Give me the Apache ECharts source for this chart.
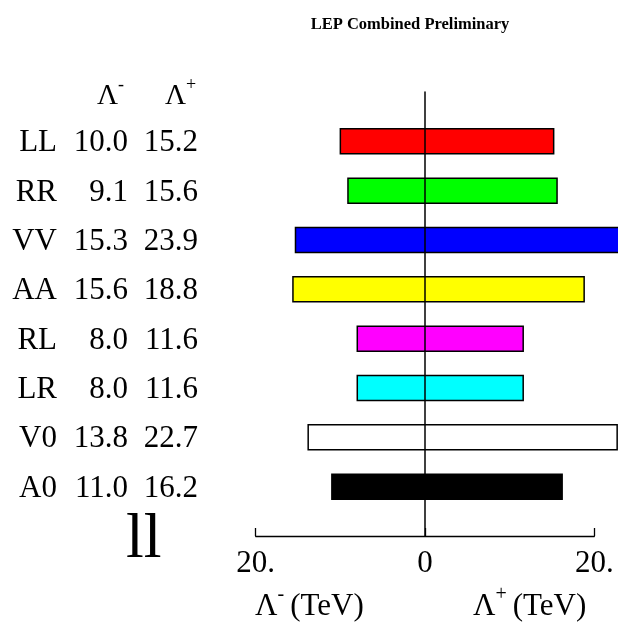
<!DOCTYPE html>
<html>
<head>
<meta charset="utf-8">
<script src="https://cdn.jsdelivr.net/npm/echarts@6/dist/echarts.min.js"></script>
<style>html,body{margin:0;padding:0;background:#fff}#c{width:618px;height:628px}</style>
</head>
<body>
<div id="c"></div>
<script>
const categories = ['LL', 'RR', 'VV', 'AA', 'RL', 'LR', 'V0', 'A0'];
const lambdaMinus = [10.0, 9.1, 15.3, 15.6, 8.0, 8.0, 13.8, 11.0];
const lambdaPlus = [15.2, 15.6, 23.9, 18.8, 11.6, 11.6, 22.7, 16.2];
const barColors = ['#ff0000', '#00ff00', '#0000ff', '#ffff00', '#ff00ff', '#00ffff', '#ffffff', '#000000'];
const tickValues = [-20, 0, 20];
const tickLabels = ['20.', '0', '20.'];

const FONT = '"Liberation Serif", "Times New Roman", serif';
const chart = echarts.init(document.getElementById('c'), null, {renderer: 'canvas'});

const data = categories.map((c, i) => [i + 1, -lambdaMinus[i], lambdaPlus[i], i]);

const supRich = {
  L: {fontSize: 31, fontFamily: FONT, color: '#000'},
  s: {fontSize: 20, fontFamily: FONT, color: '#000', padding: [0, 0, 24, 0]},
  g: {fontSize: 31, fontFamily: FONT, color: '#000', padding: [0, 0, 0, 6]}
};
const headRich = {
  L: {fontSize: 29, fontFamily: FONT, color: '#000'},
  s: {fontSize: 18, fontFamily: FONT, color: '#000', padding: [0, 0, 22, 0]}
};

const option = {
  backgroundColor: '#fff',
  animation: false,
  title: {
    text: 'LEP Combined Preliminary',
    left: 405, top: 11, textAlign: 'center',
    textStyle: {fontFamily: FONT, fontWeight: 'bold', fontSize: 16.5, color: '#000'}
  },
  grid: {left: 255.7, right: 23.7, top: 92, bottom: 92, containLabel: false},
  xAxis: {
    type: 'value', min: -20, max: 20, interval: 20,
    axisLine: {show: true, onZero: false, lineStyle: {color: '#000', width: 1.3}},
    axisTick: {show: true, inside: true, length: 8, lineStyle: {color: '#000', width: 1.3}},
    splitLine: {show: false},
    axisLabel: {
      margin: 12, fontSize: 31, fontFamily: FONT, color: '#000',
      formatter: v => tickLabels[tickValues.indexOf(v)]
    }
  },
  yAxis: [
    {
      type: 'value', min: 0, max: categories.length + 1, interval: 1, inverse: true, z: 5,
      axisLine: {show: true, onZero: true, lineStyle: {color: '#000', width: 1.5}},
      axisTick: {show: false}, axisLabel: {show: false}, splitLine: {show: false}
    },
    {
      type: 'value', min: 0, max: categories.length + 1, interval: 1, inverse: true, position: 'left',
      axisLine: {show: false, onZero: false}, axisTick: {show: false}, splitLine: {show: false},
      axisLabel: {
        margin: 57.7, align: 'right', padding: [4, 0, 0, 0],
        formatter: v => {
          const i = v - 1;
          if (i < 0 || i >= categories.length) return '';
          return '{n|' + categories[i] + '}{a|' + lambdaMinus[i].toFixed(1) + '}{b|' + lambdaPlus[i].toFixed(1) + '}';
        },
        rich: {
          n: {fontSize: 31, fontFamily: FONT, color: '#000', width: 50, align: 'right'},
          a: {fontSize: 31, fontFamily: FONT, color: '#000', width: 71, align: 'right'},
          b: {fontSize: 31, fontFamily: FONT, color: '#000', width: 70, align: 'right'}
        }
      }
    }
  ],
  series: [{
    type: 'custom',
    xAxisIndex: 0, yAxisIndex: 0,
    clip: false,
    encode: {x: [1, 2], y: 0},
    data: data,
    renderItem: function (params, api) {
      const row = api.value(0);
      const p0 = api.coord([api.value(1), row]);
      const p1 = api.coord([api.value(2), row]);
      const h = 25;
      return {
        type: 'rect',
        shape: {x: p0[0], y: p0[1] - h / 2, width: p1[0] - p0[0], height: h},
        style: {fill: barColors[api.value(3)], stroke: '#000', lineWidth: 1.5}
      };
    }
  }],
  graphic: [
    {type: 'text', left: 97, top: 76, style: {text: '{L|Λ}{s|-}', rich: headRich}},
    {type: 'text', left: 165, top: 76, style: {text: '{L|Λ}{s|+}', rich: headRich}},
    {type: 'text', left: 126, top: 508, style: {text: 'll', fontSize: 64, fontFamily: FONT, fill: '#000'}},
    {type: 'text', left: 255, top: 585, style: {text: '{L|Λ}{s|-}{g|(TeV)}', rich: supRich}},
    {type: 'text', left: 473, top: 585, style: {text: '{L|Λ}{s|+}{g|(TeV)}', rich: supRich}}
  ]
};
chart.setOption(option);
</script>
</body>
</html>
